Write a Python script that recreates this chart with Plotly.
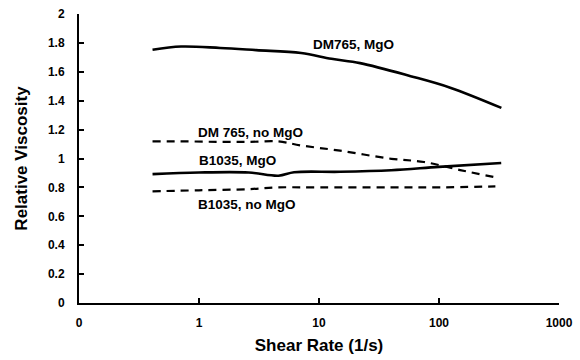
import math
import plotly.graph_objects as go

# Shear rates (1/s)
dm_mgo_x = [0.41, 0.71, 1.5, 3.0, 7.1, 12.7, 22, 58, 124, 331]
dm_mgo_y = [1.753, 1.775, 1.765, 1.75, 1.73, 1.69, 1.66, 1.57, 1.49, 1.35]

dm_no_x = [0.41, 0.8, 1.5, 2.6, 4.6, 7.1, 15, 40, 75, 150, 295]
dm_no_y = [1.118, 1.118, 1.115, 1.115, 1.118, 1.09, 1.054, 0.998, 0.976, 0.92, 0.87]

b_mgo_x = [0.41, 1.0, 2.6, 4.6, 6.2, 15, 40, 100, 330]
b_mgo_y = [0.892, 0.903, 0.903, 0.881, 0.905, 0.908, 0.919, 0.942, 0.969]

b_no_x = [0.41, 1.0, 2.6, 4.4, 10, 40, 100, 295]
b_no_y = [0.773, 0.78, 0.788, 0.80, 0.80, 0.80, 0.80, 0.807]

x_tickvals = [0.1, 1, 10, 100, 1000]
x_ticktext = ["0", "1", "10", "100", "1000"]
y_tickvals = [0, 0.2, 0.4, 0.6, 0.8, 1.0, 1.2, 1.4, 1.6, 1.8, 2.0]
y_ticktext = ["0", "0.2", "0.4", "0.6", "0.8", "1", "1.2", "1.4", "1.6", "1.8", "2"]

# label text, shear rate at left edge, viscosity at centre
labels = [
    ("DM765, MgO", 8.6, 1.789),
    ("DM 765, no MgO", 0.94, 1.178),
    ("B1035, MgO", 0.97, 0.986),
    ("B1035, no MgO", 0.94, 0.682),
]

fig = go.Figure()
fig.add_trace(go.Scatter(x=dm_mgo_x, y=dm_mgo_y, mode="lines",
                         line=dict(color="black", width=2.6, shape="spline")))
fig.add_trace(go.Scatter(x=dm_no_x, y=dm_no_y, mode="lines",
                         line=dict(color="black", width=2.2, dash="8px,6px", shape="spline")))
fig.add_trace(go.Scatter(x=b_mgo_x, y=b_mgo_y, mode="lines",
                         line=dict(color="black", width=2.6, shape="spline")))
fig.add_trace(go.Scatter(x=b_no_x, y=b_no_y, mode="lines",
                         line=dict(color="black", width=2.2, dash="8px,6px", shape="spline")))

for text, lx, ly in labels:
    fig.add_annotation(x=math.log10(lx), y=ly, xref="x", yref="y", text=text, showarrow=False,
                       xanchor="left", yanchor="middle",
                       font=dict(family="Liberation Sans", size=13.5, color="black", weight="bold"))

fig.update_layout(
    width=580, height=360,
    margin=dict(l=79, r=17, t=7, b=57),
    paper_bgcolor="white", plot_bgcolor="white",
    showlegend=False,
    font=dict(family="Liberation Sans", color="black"),
)
fig.update_xaxes(type="log", range=[-1, 3], tickvals=x_tickvals, ticktext=x_ticktext,
                 showgrid=False, zeroline=False, showline=True, linecolor="black", linewidth=2,
                 ticks="inside", ticklen=5, tickwidth=1.5, tickcolor="black",
                 ticklabelstandoff=8,
                 tickfont=dict(family="Liberation Sans", size=12, weight="bold"),
                 title=dict(text="Shear Rate (1/s)", standoff=10,
                            font=dict(family="Liberation Sans", size=17, weight="bold")))
fig.update_yaxes(range=[0, 2], tickvals=y_tickvals, ticktext=y_ticktext,
                 showgrid=False, zeroline=False, showline=True, linecolor="black", linewidth=2,
                 ticks="inside", ticklen=5, tickwidth=1.5, tickcolor="black",
                 ticklabelstandoff=10,
                 tickfont=dict(family="Liberation Sans", size=12, weight="bold"),
                 title=dict(text="Relative Viscosity", standoff=16,
                            font=dict(family="Liberation Sans", size=17, weight="bold")))

fig.write_html("out.html", config={"displayModeBar": False},
               post_script="document.body.style.margin='0';document.body.style.padding='0';")
